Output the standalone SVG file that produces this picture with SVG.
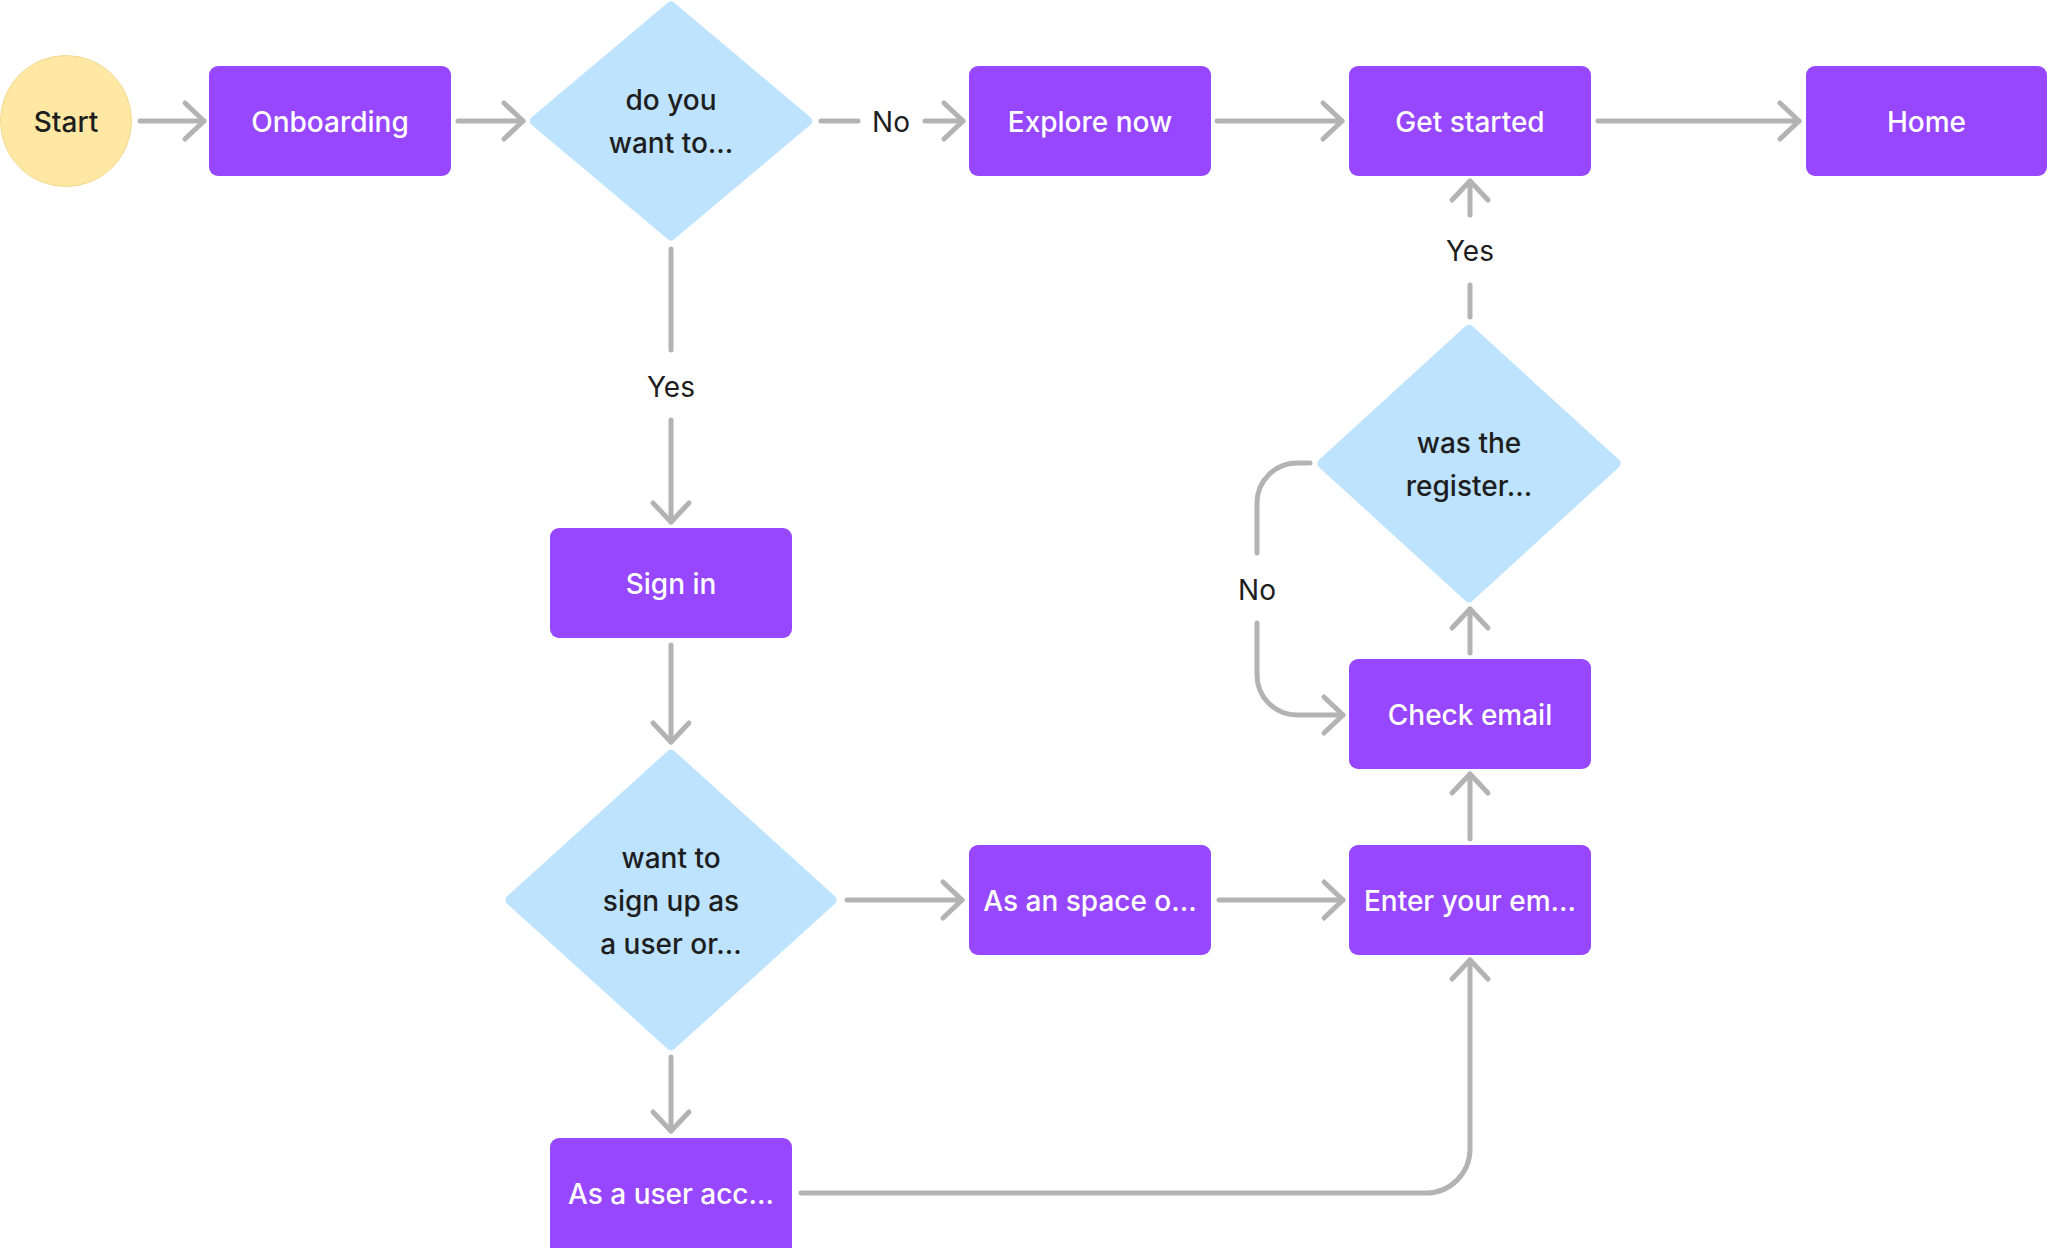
<svg xmlns="http://www.w3.org/2000/svg" width="2048" height="1248" viewBox="0 0 2048 1248">
<defs>
<style>
.box{fill:#9747FF}
.dia{fill:#BDE3FF;stroke:#BDE3FF;stroke-width:10;stroke-linejoin:round}
.wt{fill:#FFFFFF;font-family:Inter,"Liberation Sans",sans-serif;font-size:28px;font-weight:500;text-anchor:middle}
.dt{fill:#1E1E1E;font-family:Inter,"Liberation Sans",sans-serif;font-size:28px;font-weight:500;text-anchor:middle}
.lb{fill:#1E1E1E;font-family:Inter,"Liberation Sans",sans-serif;font-size:28px;font-weight:400;text-anchor:middle}
.c{fill:none;stroke:#B3B3B3;stroke-width:5;stroke-linecap:round;stroke-linejoin:round}
.ca{marker-end:url(#arr)}
</style>
<marker id="arr" markerUnits="userSpaceOnUse" viewBox="-24 -24 30 48" markerWidth="30" markerHeight="48" refX="0" refY="0" orient="auto" overflow="visible">
<path d="M-19,-18 L0,0 L-19,18" fill="none" stroke="#B3B3B3" stroke-width="5" stroke-linecap="round" stroke-linejoin="round"/>
</marker>
</defs>
<rect width="2048" height="1248" fill="#FFFFFF"/>

<g id="connectors">
<path class="c ca" d="M140,121 H204"/>
<path class="c ca" d="M458,121 H523"/>
<path class="c" d="M821,121 H858"/>
<path class="c ca" d="M925,121 H963"/>
<path class="c ca" d="M1217,121 H1342"/>
<path class="c ca" d="M1598,121 H1799"/>
<path class="c" d="M671,249 V350"/>
<path class="c ca" d="M671,420 V522"/>
<path class="c ca" d="M671,645 V742"/>
<path class="c ca" d="M847,900 H962"/>
<path class="c ca" d="M1219,900 H1343"/>
<path class="c ca" d="M1470,839 V774"/>
<path class="c ca" d="M671,1057 V1131"/>
<path class="c ca" d="M801,1193 H1426 A44,44 0 0 0 1470,1149 V960"/>
<path class="c ca" d="M1470,653 V609"/>
<path class="c" d="M1470,317 V285"/>
<path class="c ca" d="M1470,215 V181"/>
<path class="c" d="M1310,463 H1297 A40,40 0 0 0 1257,503 V553"/>
<path class="c ca" d="M1257,623 V675 A40,40 0 0 0 1297,715 H1343"/>
<text class="lb" x="891" y="132">No</text>
<text class="lb" x="671" y="397">Yes</text>
<text class="lb" x="1470" y="261">Yes</text>
<text class="lb" x="1257" y="600">No</text>
</g>

<g id="start">
<circle cx="66" cy="121" r="65.5" fill="#FFE8A3" stroke="#F2D98C" stroke-width="1"/>
<text class="dt" x="66" y="132">Start</text>
</g>
<g id="onboarding">
<rect class="box" x="209" y="66" width="242" height="110" rx="9"/>
<text class="wt" x="330" y="132">Onboarding</text>
</g>
<g id="decision-want">
<polygon class="dia" points="671,6.5 807.2,121 671,235.5 534.8,121"/>
<text class="dt" x="671" y="110">do you</text>
<text class="dt" x="671" y="153">want to...</text>
</g>
<g id="explore-now">
<rect class="box" x="969" y="66" width="242" height="110" rx="9"/>
<text class="wt" x="1090" y="132">Explore now</text>
</g>
<g id="get-started">
<rect class="box" x="1349" y="66" width="242" height="110" rx="9"/>
<text class="wt" x="1470" y="132">Get started</text>
</g>
<g id="home">
<rect class="box" x="1806" y="66" width="241" height="110" rx="9"/>
<text class="wt" x="1926.5" y="132">Home</text>
</g>
<g id="sign-in">
<rect class="box" x="550" y="528" width="242" height="110" rx="9"/>
<text class="wt" x="671" y="594">Sign in</text>
</g>
<g id="decision-signup">
<polygon class="dia" points="671,754.7 831.6,900 671,1045.3 510.4,900"/>
<text class="dt" x="671" y="868">want to</text>
<text class="dt" x="671" y="911">sign up as</text>
<text class="dt" x="671" y="954">a user or...</text>
</g>
<g id="space-owner">
<rect class="box" x="969" y="845" width="242" height="110" rx="9"/>
<text class="wt" x="1090" y="911">As an space o...</text>
</g>
<g id="enter-email">
<rect class="box" x="1349" y="845" width="242" height="110" rx="9"/>
<text class="wt" x="1470" y="911">Enter your em...</text>
</g>
<g id="check-email">
<rect class="box" x="1349" y="659" width="242" height="110" rx="9"/>
<text class="wt" x="1470" y="725">Check email</text>
</g>
<g id="decision-register">
<polygon class="dia" points="1469,329.8 1615.6,463.5 1469,597.2 1322.4,463.5"/>
<text class="dt" x="1469" y="453">was the</text>
<text class="dt" x="1469" y="496">register...</text>
</g>
<g id="user-account">
<rect class="box" x="550" y="1138" width="242" height="120" rx="9"/>
<text class="wt" x="671" y="1204">As a user acc...</text>
</g>
</svg>
